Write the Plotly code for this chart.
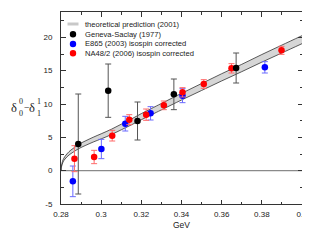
import numpy as np
import plotly.graph_objects as go

# ---------------- data ----------------
theory_x = [0.2800, 0.2802, 0.2805, 0.2810, 0.2820, 0.2840, 0.2860, 0.2890, 0.2920,
            0.2960, 0.3000, 0.3050, 0.3100, 0.3150, 0.3200, 0.3250, 0.3300, 0.3400,
            0.3500, 0.3600, 0.3700, 0.3800, 0.3900, 0.4000]
theory_y = [0.0, 0.6, 1.0, 1.45, 1.95, 2.6, 3.05, 3.65, 4.1,
            4.65, 5.15, 5.8, 6.55, 7.3, 8.1, 8.85, 9.6, 11.1,
            12.55, 14.0, 15.4, 16.85, 18.25, 19.65]
theory_hw = [0.0, 0.08, 0.12, 0.16, 0.2, 0.25, 0.28, 0.32, 0.34,
             0.36, 0.38, 0.4, 0.42, 0.44, 0.46, 0.47, 0.48, 0.5,
             0.52, 0.54, 0.55, 0.57, 0.59, 0.6]

geneva_x = [0.2886, 0.3035, 0.3181, 0.3362, 0.3672]
geneva_y = [4.0, 12.0, 7.45, 11.45, 15.4]
geneva_err = [7.5, 4.0, 2.85, 2.3, 2.25]

e865_x = [0.2859, 0.3001, 0.3120, 0.3246, 0.3405, 0.3815]
e865_y = [-1.6, 3.25, 7.05, 8.6, 11.25, 15.5]
e865_err = [2.3, 1.45, 1.1, 1.0, 1.05, 0.85]

na48_x = [0.2867, 0.2965, 0.3055, 0.3140, 0.3224, 0.3312, 0.3405, 0.3511, 0.3649, 0.3898]
na48_y = [1.8, 2.05, 5.25, 7.65, 8.4, 9.8, 11.75, 13.0, 15.35, 18.05]
na48_err = [1.95, 1.0, 0.8, 0.75, 0.85, 0.65, 0.7, 0.65, 0.7, 0.6]

x_tickvals = [0.28, 0.30, 0.32, 0.34, 0.36, 0.38, 0.40]
x_ticktext = ["0.28", "0.3", "0.32", "0.34", "0.36", "0.38", "0.4"]
y_tickvals = [-5, 0, 5, 10, 15, 20]
y_ticktext = ["-5", "0", "5", "10", "15", "20"]

legend_labels = ["theoretical prediction (2001)", "Geneva-Saclay (1977)",
                 "E865 (2003) isospin corrected", "NA48/2 (2006) isospin corrected"]

# ---------------- geometry ----------------
# the page body has an 8px margin, so the figure is placed at (8, 8) in the window
OFF = 8
W, H = 310 - OFF, 240 - OFF
L, R, T, B = 61 - OFF, 8, 12 - OFF, 36
PW, PH = W - L - R, H - T - B


def px(xp):  # window pixel -> paper x
    return (xp - OFF - L) / PW


def py(yp):  # window pixel -> paper y
    return (H - B - (yp - OFF)) / PH


FONT = "Liberation Sans, Arial, sans-serif"
SERIF = "Liberation Serif, Times New Roman, serif"

ty = np.array(theory_y)
thw = np.array(theory_hw)
upper = ty + thw
lower = ty - thw

fig = go.Figure()

# theory band
fig.add_trace(go.Scatter(x=theory_x, y=lower, mode="lines", line=dict(color="#333333", width=0.8, shape="spline"),
                         hoverinfo="skip", showlegend=False))
fig.add_trace(go.Scatter(x=theory_x, y=upper, mode="lines", line=dict(color="#333333", width=0.8, shape="spline"),
                         fill="tonexty", fillcolor="#d6d6d6", hoverinfo="skip", showlegend=False))

# E865
fig.add_trace(go.Scatter(x=e865_x, y=e865_y, mode="markers",
                         marker=dict(color="#0000ff", size=6.5),
                         error_y=dict(type="data", array=e865_err, color="#6a6aff", thickness=1, width=3),
                         showlegend=False))
# NA48/2
fig.add_trace(go.Scatter(x=na48_x, y=na48_y, mode="markers",
                         marker=dict(color="#ff0000", size=6.5),
                         error_y=dict(type="data", array=na48_err, color="#ff6a6a", thickness=1, width=3),
                         showlegend=False))
# Geneva-Saclay
fig.add_trace(go.Scatter(x=geneva_x, y=geneva_y, mode="markers",
                         marker=dict(color="#000000", size=6.5),
                         error_y=dict(type="data", array=geneva_err, color="#555555", thickness=1, width=3),
                         showlegend=False))

shapes = []
# zero line
shapes.append(dict(type="line", xref="paper", yref="y", x0=0, x1=1, y0=0, y1=0,
                   line=dict(color="#8a8a8a", width=1.3), layer="below"))

# manual legend
leg_y = [24, 34.3, 44, 53.3]
leg_colors = [None, "#000000", "#0000ff", "#ff0000"]
shapes.append(dict(type="line", xref="paper", yref="paper", x0=px(67.5), x1=px(78.5),
                   y0=py(leg_y[0]), y1=py(leg_y[0]), line=dict(color="#c8c8c8", width=3)))
for yy, c in zip(leg_y[1:], leg_colors[1:]):
    shapes.append(dict(type="circle", xref="paper", yref="paper", xsizemode="pixel", ysizemode="pixel",
                       xanchor=px(73), yanchor=py(yy), x0=-3.2, x1=3.2, y0=-3.2, y1=3.2,
                       fillcolor=c, line=dict(color=c, width=0)))

annotations = []
for yy, lab in zip(leg_y, legend_labels):
    annotations.append(dict(text=lab, xref="paper", yref="paper", x=px(82.5), y=py(yy),
                            xanchor="left", yanchor="middle", showarrow=False,
                            font=dict(family=FONT, size=7.6, color="#222222")))

# x title
annotations.append(dict(text="GeV", xref="paper", yref="paper", x=px(181), y=py(225),
                        xanchor="center", yanchor="middle", showarrow=False,
                        font=dict(family=FONT, size=8.5, color="#222222")))

# y title: δ_0^0 − δ_1^1
ylab = [("δ", 13.5, 107.5, 12.5), ("0", 20.5, 101.5, 8), ("0", 20.5, 113.5, 8),
        ("−", 26.5, 107.5, 10), ("δ", 32, 107.5, 12.5), ("1", 38.5, 101.5, 8), ("1", 38.5, 113.5, 8)]
for t, xx, yy, fs in ylab:
    annotations.append(dict(text=t, xref="paper", yref="paper", x=px(xx), y=py(yy),
                            xanchor="center", yanchor="middle", showarrow=False,
                            font=dict(family=SERIF, size=fs, color="#222222")))

fig.update_layout(
    width=W, height=H,
    margin=dict(l=L, r=R, t=T, b=B, autoexpand=False),
    paper_bgcolor="white", plot_bgcolor="white",
    showlegend=False,
    shapes=shapes, annotations=annotations,
    font=dict(family=FONT, size=8, color="#222222"),
)
fig.update_xaxes(range=[0.28, 0.40], tickvals=x_tickvals, ticktext=x_ticktext,
                 ticks="inside", ticklen=4.5, tickcolor="#333333", tickwidth=1,
                 minor=dict(dtick=0.01, ticks="inside", ticklen=2.5, tickcolor="#333333"),
                 showline=True, linecolor="#333333", linewidth=1, mirror="ticks",
                 showgrid=False, zeroline=False, ticklabelstandoff=2, automargin=False,
                 tickfont=dict(family=FONT, size=8, color="#222222"))
fig.update_yaxes(range=[-5, 23.8], tickvals=y_tickvals, ticktext=y_ticktext,
                 ticks="inside", ticklen=4.5, tickcolor="#333333", tickwidth=1,
                 minor=dict(dtick=2.5, ticks="inside", ticklen=2.5, tickcolor="#333333"),
                 showline=True, linecolor="#333333", linewidth=1, mirror="ticks",
                 showgrid=False, zeroline=False, ticklabelstandoff=6, automargin=False,
                 tickfont=dict(family=FONT, size=8, color="#222222"))

fig.write_html("out.html")
